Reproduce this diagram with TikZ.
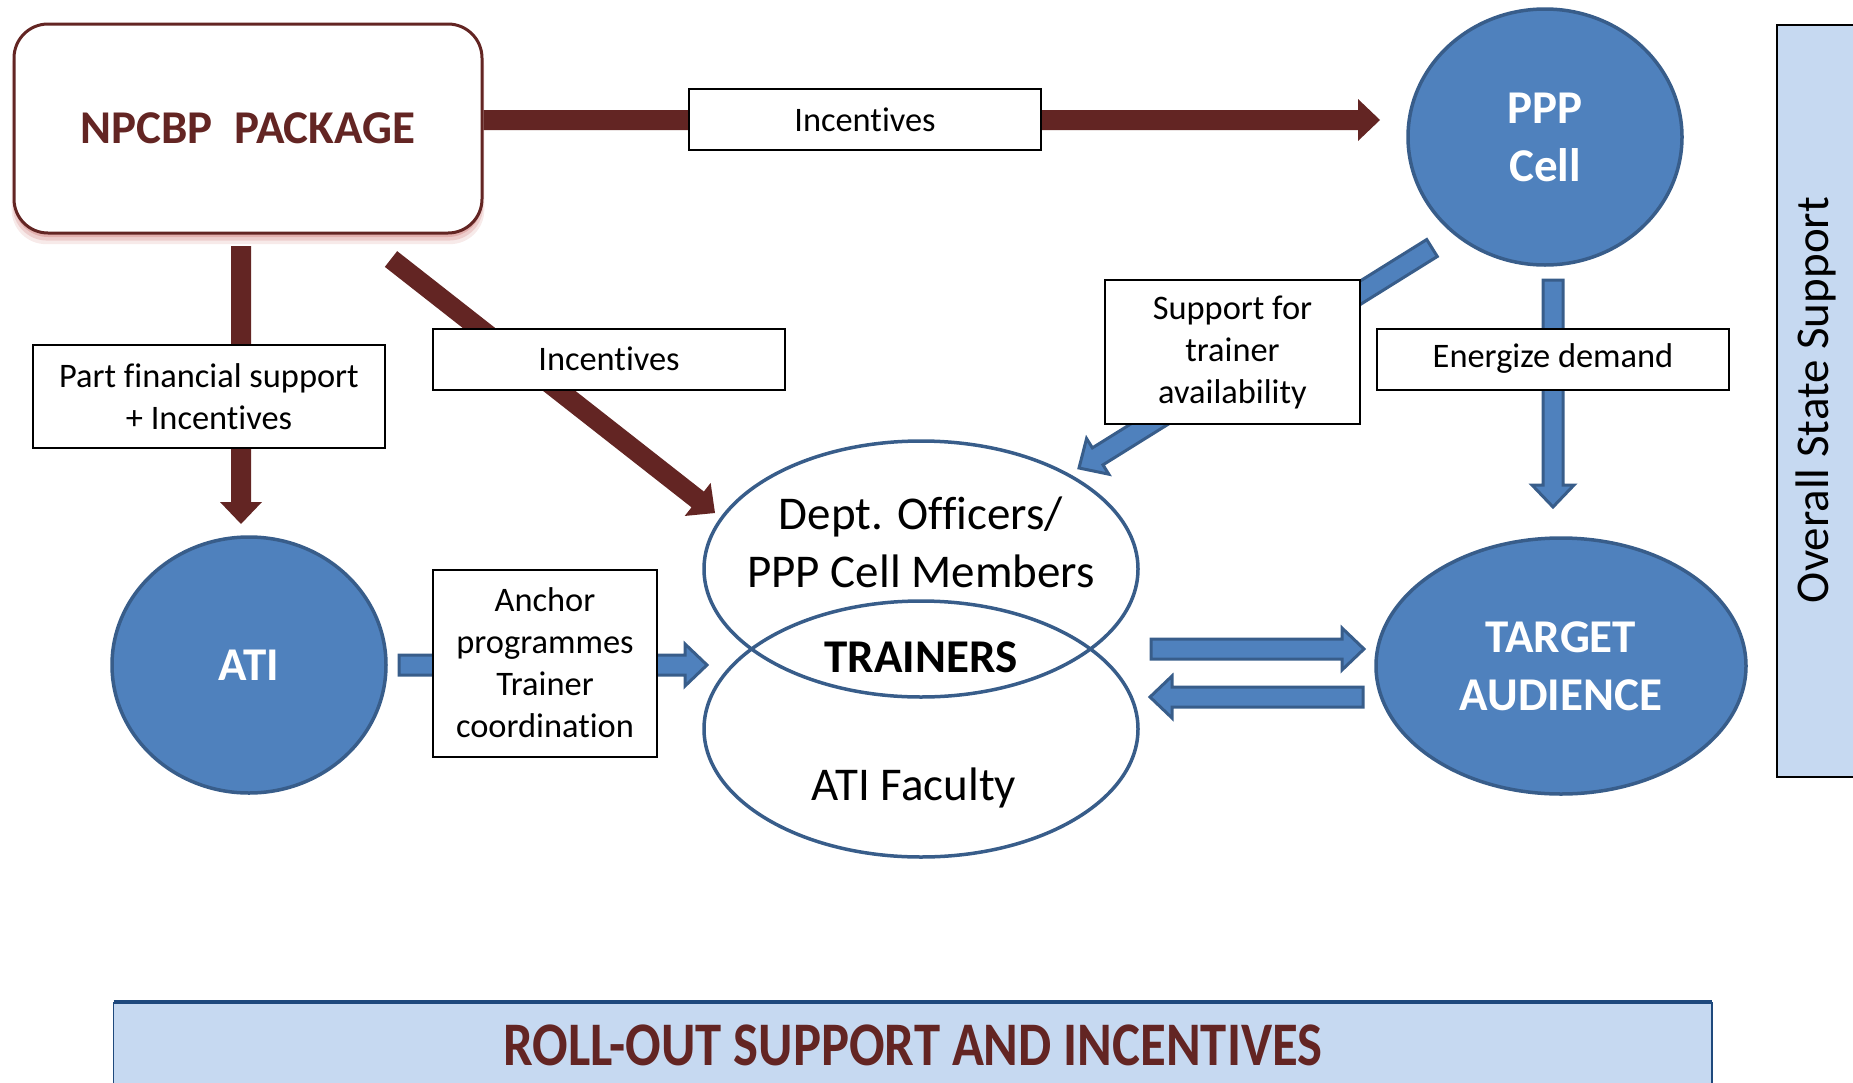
\documentclass[tikz,border=0pt]{standalone}
\usepackage{fontspec}
\usepackage{graphicx}
\setmainfont{Carlito}[Ligatures=NoCommon]
\usetikzlibrary{positioning,calc,shapes.geometric,shadows}
\definecolor{darkred}{HTML}{632523}
\definecolor{cellblue}{HTML}{4F81BD}
\definecolor{cellline}{HTML}{385D8A}
\definecolor{paleblue}{HTML}{C6D9F1}
\definecolor{bannerline}{HTML}{1F497D}
\definecolor{glowred}{HTML}{C0504D}

\newcommand{\lbltext}{\fontsize{17.2pt}{21pt}\selectfont}
\newcommand{\bigtext}{\fontsize{23.5pt}{29pt}\selectfont}
\newcommand{\bannertext}{\fontsize{31pt}{36pt}\selectfont\bfseries}

% block arrow from #2 to #3, style #1
\newcommand{\blockarrow}[3]{%
  \coordinate (baS) at (#2);
  \coordinate (baE) at (#3);
  \coordinate (baM) at ($(baE)!11pt!(baS)$);
  \filldraw[#1] ($(baS)!5pt!90:(baE)$) -- ($(baM)!5pt!90:(baE)$)
    -- ($(baM)!10.5pt!90:(baE)$) -- (baE) -- ($(baM)!10.5pt!-90:(baE)$)
    -- ($(baM)!5pt!-90:(baE)$) -- ($(baS)!5pt!-90:(baE)$) -- cycle;
}

\begin{document}
\begin{tikzpicture}[x=0.5pt,y=-0.5pt,
  redarr/.style={fill=darkred,draw=none},
  bluearr/.style={fill=cellblue,draw=cellline,line width=1.5pt},
  lbl/.style={draw,fill=white,line width=1pt,align=center,inner sep=0pt,font=\lbltext},
  pkg/.style={draw=darkred,line width=1.5pt,fill=white,rounded corners=17pt,
    minimum width=234pt,minimum height=104.5pt,text=darkred,font=\bigtext\bfseries,
    drop shadow={shadow xshift=0pt,shadow yshift=-5pt,shadow scale=1.01,fill=glowred,opacity=.12},
    drop shadow={shadow xshift=0pt,shadow yshift=-3.5pt,shadow scale=1.005,fill=glowred,opacity=.18},
    drop shadow={shadow xshift=0pt,shadow yshift=-2pt,fill=glowred,opacity=.25}},
  cell/.style={ellipse,fill=cellblue,draw=cellline,line width=1.75pt,text=white,
    align=center,inner sep=0pt,font=\bigtext\bfseries},
  ring/.style={ellipse,draw=cellline,line width=1.75pt,minimum width=217pt,minimum height=128pt}]

\useasboundingbox (0,0) rectangle (1853,1082);

% side bar and bottom banner
\filldraw[draw=black,line width=1pt,fill=paleblue] (1777,25) rectangle (1875,776.5);
\node[rotate=90,font=\bigtext] (overall) at (1816,400) {Overall State Support};
\fill[paleblue] (113.5,1002) rectangle (1712,1095);
\draw[bannerline,line width=.6pt] (113.5,1095) -- (113.5,1002) (1712,1002) -- (1712,1095);
\draw[bannerline,line width=2pt] (113.5,1002) -- (1712,1002);
\node[font=\bannertext,text=darkred] (rollout) at (913,1045) {\scalebox{.85}[1]{ROLL-OUT SUPPORT AND INCENTIVES}};

% main nodes
\node[pkg] (npcbp) at (248,128.5) {NPCBP~~PACKAGE};
\node[cell,minimum width=137pt,minimum height=128pt] (ppp) at (1545,137) {PPP\\Cell};
\node[cell,minimum width=137pt,minimum height=128pt] (ati) at (249,665) {ATI};
\node[cell,minimum width=185pt,minimum height=128pt] (target) at (1561,666) {TARGET\\AUDIENCE};
\node[ring] (dept) at (921,569) {};
\node[ring] (faculty) at (921,729) {};
\node[font=\bigtext,align=center] (depttxt) at (921,542) {Dept. Officers/\\PPP Cell Members};
\node[font=\bigtext\bfseries] (trainers) at (921,657) {TRAINERS};
\node[font=\bigtext] (facultytxt) at (914,788) {ATI Faculty};

% arrow ends
\coordinate (incTip) at (1380,120);
\coordinate (incTail) at (npcbp.east |- incTip);
\coordinate (finTail) at (241,246);
\coordinate (finTip) at (241,524);
\coordinate (diagTail) at (391,259);
\coordinate (diagTip) at (715,513);
\coordinate (atiTail) at (399,665);
\coordinate (atiTip) at (707,665);
\coordinate (supTail) at (1432,248);
\coordinate (supTip) at (1079,468);
\coordinate (enTail) at (1553,280);
\coordinate (enTip) at (1553,507);
\coordinate (toTarget) at (1364,649);
\coordinate (outTarget) at (1151,649);
\coordinate (fromTarget) at (1150,697);
\coordinate (inTarget) at (1363,697);

\blockarrow{redarr}{incTail}{incTip}
\blockarrow{redarr}{finTail}{finTip}
\blockarrow{redarr}{diagTail}{diagTip}
\blockarrow{bluearr}{atiTail}{atiTip}
\blockarrow{bluearr}{supTail}{supTip}
\blockarrow{bluearr}{enTail}{enTip}
\blockarrow{bluearr}{outTarget}{toTarget}
\blockarrow{bluearr}{inTarget}{fromTarget}

% labels on the arrows
\node[lbl,minimum width=176pt,minimum height=30.5pt] (inctop) at (865,119.5) {Incentives};
\node[lbl,minimum width=176pt,minimum height=30.5pt] (incmid) at (609,359) {Incentives};
\node[lbl,minimum width=176pt,minimum height=51.5pt] (finance) at (209,396.5) {Part financial support\\+ Incentives};
\node[lbl,minimum width=112pt,minimum height=93.5pt] (anchor) at (545,663) {Anchor\\programmes\\Trainer\\coordination};
\node[lbl,minimum width=127.5pt,minimum height=72pt] (trainsup) at (1232.5,352) {Support for\\trainer\\availability};
\node[lbl,minimum width=176pt,minimum height=30.5pt] (energize) at (1553,359) {Energize demand};
\end{tikzpicture}
\end{document}
